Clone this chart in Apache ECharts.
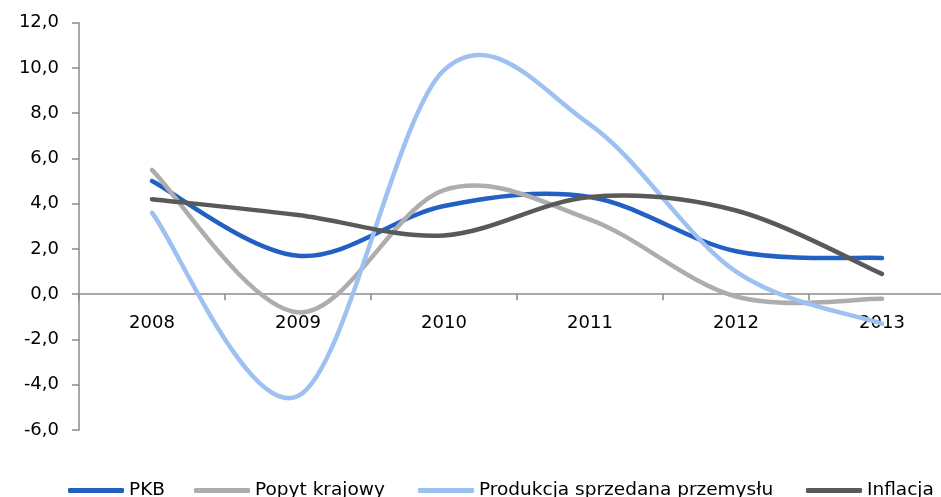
<!DOCTYPE html>
<html><head><meta charset="utf-8">
<script src="https://cdn.jsdelivr.net/npm/echarts@6/dist/echarts.min.js"></script>
<style>html,body{margin:0;padding:0;background:#fff;overflow:hidden;width:941px;height:497px}#c{width:955px;height:497px}</style>
</head><body><div id="c"></div>
<script>
var categories = ['2008','2009','2010','2011','2012','2013'];
var pkb = [5.0, 1.7, 3.9, 4.3, 1.9, 1.6];
var popyt = [5.5, -0.8, 4.6, 3.3, -0.1, -0.2];
var produkcja = [3.6, -4.5, 9.9, 7.5, 1.0, -1.3];
var inflacja = [4.2, 3.5, 2.6, 4.3, 3.7, 0.9];
var seriesNames = ['PKB','Popyt krajowy','Produkcja sprzedana przemysłu','Inflacja'];
var colors = ['#2260C4','#ADADAD','#9DC1F0','#595959'];
var yTicks = {min:-6, max:12, interval:2};

var font = 'DejaVu Sans';
var gridH = 407.3;
var chart = echarts.init(document.getElementById('c'));

// Excel-like smoothed line (Catmull-Rom through the data points), positioned by api.coord
function mk(name, values, color){
  return {
    name:name, type:'custom', silent:true, clip:false,
    itemStyle:{color:color},
    data: values.map(function(v,i){return [i,v];}),
    encode:{x:0, y:1},
    renderItem:function(params, api){
      if (params.dataIndex !== 0) return null;
      var pts = values.map(function(v,i){return api.coord([i, v]);});
      var n = pts.length, d = 'M' + pts[0][0] + ' ' + pts[0][1];
      for (var i = 0; i < n - 1; i++){
        var p0 = pts[i-1] || pts[i], p1 = pts[i], p2 = pts[i+1], p3 = pts[i+2] || pts[i+1];
        var c1x = p1[0] + (p2[0]-p0[0])/6, c1y = p1[1] + (p2[1]-p0[1])/6;
        var c2x = p2[0] - (p3[0]-p1[0])/6, c2y = p2[1] - (p3[1]-p1[1])/6;
        d += ' C' + c1x + ' ' + c1y + ' ' + c2x + ' ' + c2y + ' ' + p2[0] + ' ' + p2[1];
      }
      return {type:'path', shape:{pathData:d},
        style:{fill:null, stroke:color, lineWidth:4.5, lineCap:'round', lineJoin:'round'}};
    }
  };
}
function lg(name, left){
  return {left:left, top:476, itemWidth:56, itemHeight:5, icon:'roundRect',
    textStyle:{fontFamily:font, fontSize:18.5, color:'#000'}, data:[name]};
}
chart.setOption({
  animation:false,
  grid:{left:79, top:22.7, right:0, height:gridH},
  legend:[lg(seriesNames[0],63), lg(seriesNames[1],189), lg(seriesNames[2],413), lg(seriesNames[3],801)],
  xAxis:{type:'category', data:categories, boundaryGap:true,
    offset: -gridH * (0 - yTicks.min) / (yTicks.max - yTicks.min),
    axisLine:{onZero:false, lineStyle:{color:'#8a8a8a', width:1.5}},
    axisTick:{show:true, length:6, lineStyle:{color:'#8a8a8a', width:1.5}},
    axisLabel:{fontFamily:font, fontSize:18, color:'#000', margin:20}},
  yAxis:{type:'value', min:yTicks.min, max:yTicks.max, interval:yTicks.interval,
    axisLine:{show:true, lineStyle:{color:'#8a8a8a', width:1.5}},
    axisTick:{show:true, length:7, lineStyle:{color:'#8a8a8a', width:1.5}},
    splitLine:{show:false},
    axisLabel:{fontFamily:font, fontSize:18, color:'#000', margin:20,
      formatter:function(v){return v.toFixed(1).replace('.',',');}}},
  series:[mk(seriesNames[0],pkb,colors[0]), mk(seriesNames[1],popyt,colors[1]),
          mk(seriesNames[2],produkcja,colors[2]), mk(seriesNames[3],inflacja,colors[3])]
});
</script></body></html>
